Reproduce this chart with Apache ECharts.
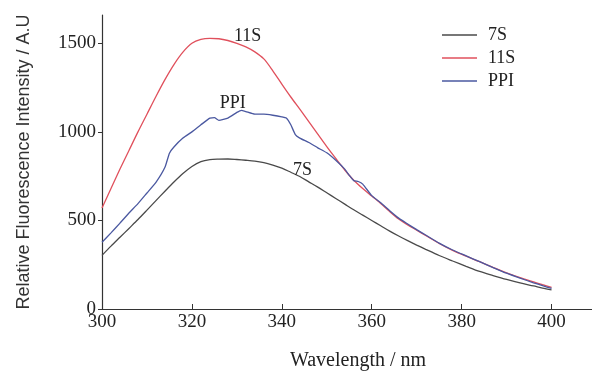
<!DOCTYPE html>
<html>
<head>
<meta charset="utf-8">
<script src="https://cdn.jsdelivr.net/npm/echarts@6/dist/echarts.min.js"></script>
<style>
  html, body { margin: 0; padding: 0; background: #fff; }
  #chart { width: 592px; height: 376px; }
</style>
</head>
<body>
<div id="chart"></div>
<script>
// wavelength grid (nm) shared by 7S and 11S
const wavelengths = [300, 302, 304, 306, 308, 310, 312, 314, 316, 318, 320, 322, 324, 326, 328, 330,
  332, 334, 336, 338, 340, 342, 344, 346, 348, 350, 352, 354, 356, 358, 360, 362, 364, 366, 368, 370,
  372, 375, 378, 381, 384, 387, 390, 393, 396, 398, 400];
const values7S = [303, 355, 405, 455, 505, 558, 612, 665, 717, 765, 805, 832, 843, 846, 847, 844,
  840, 835, 826, 812, 795, 772, 748, 718, 688, 656, 624, 592, 560, 530, 500, 470, 440, 412, 386, 361,
  337, 302, 271, 241, 212, 189, 167, 147, 130, 118, 108];
const values11S = [570, 680, 790, 895, 1000, 1100, 1200, 1295, 1380, 1450, 1500, 1522, 1528, 1526, 1516, 1500,
  1480, 1452, 1412, 1345, 1270, 1197, 1128, 1058, 987, 917, 850, 785, 727, 680, 638, 596, 550, 508, 475, 445,
  415, 370, 331, 298, 267, 235, 204, 177, 153, 137, 122];
// PPI is bumpier, so it has its own wavelength list
const wavelengthsPPI = [300, 302, 304, 306, 308, 310, 312, 314, 315, 316, 318, 320, 322, 324, 325, 326, 328,
  330, 331, 332, 334, 336, 338, 340, 341, 342, 343, 344, 346, 348, 350, 352, 354, 355, 356, 357, 358, 360,
  362, 364, 366, 368, 370, 372, 375, 378, 381, 384, 387, 390, 393, 396, 398, 400];
const valuesPPI = [377, 430, 485, 542, 595, 655, 715, 800, 880, 915, 965, 1000, 1040, 1078, 1080, 1065, 1078,
  1110, 1122, 1115, 1100, 1100, 1094, 1085, 1078, 1040, 985, 965, 940, 910, 882, 840, 790, 755, 725, 720, 705, 640,
  600, 555, 513, 480, 448, 418, 372, 333, 300, 267, 234, 202, 174, 148, 132, 116];

const seriesNames = ["7S", "11S", "PPI"];
const colors = ["#4a4a4a", "#e0505c", "#4a58a0"];
// curve labels placed in data coordinates [nm, intensity]
const curveLabels = [[344.6, 781], [332.4, 1540], [329.1, 1160]];
const xTicks = [300, 320, 340, 360, 380, 400];
const yTicks = [0, 500, 1000, 1500];

const pairs = (xs, ys) => xs.map((x, i) => [x, ys[i]]);
const seriesData = [pairs(wavelengths, values7S), pairs(wavelengths, values11S), pairs(wavelengthsPPI, valuesPPI)];

const serif = "'Liberation Serif', 'Times New Roman', serif";
const chart = echarts.init(document.getElementById("chart"));

const option = {
  backgroundColor: "#fff",
  animation: false,
  grid: { left: 102, right: 0, top: 15, bottom: 61 },
  legend: {
    orient: "vertical",
    left: 437,
    top: 21,
    icon: "rect",
    itemWidth: 35,
    itemHeight: 1.5,
    itemGap: 5,
    textStyle: { fontFamily: serif, fontSize: 18, color: "#222", lineHeight: 18, padding: [0, 0, 0, 6] },
    data: seriesNames
  },
  xAxis: {
    type: "value",
    min: 300,
    max: 409,
    name: "Wavelength / nm",
    nameLocation: "middle",
    nameGap: 42,
    nameTextStyle: { fontFamily: serif, fontSize: 20, color: "#222", padding: [0, 0, 0, 22] },
    axisLine: { lineStyle: { color: "#333", width: 1.2 } },
    axisTick: { inside: true, length: 5, customValues: xTicks, lineStyle: { color: "#333" } },
    axisLabel: { customValues: xTicks, fontFamily: serif, fontSize: 19, color: "#222", margin: 4 },
    splitLine: { show: false }
  },
  yAxis: {
    type: "value",
    min: 0,
    max: 1660,
    name: "Relative Fluorescence Intensity / A.U",
    nameLocation: "middle",
    nameGap: 69,
    nameTextStyle: { fontFamily: "'Liberation Sans', Arial, sans-serif", fontSize: 18, color: "#333" },
    axisLine: { show: true, lineStyle: { color: "#333", width: 1.2 } },
    axisTick: { show: true, length: 4, customValues: yTicks, lineStyle: { color: "#333" } },
    axisLabel: {
      customValues: yTicks,
      formatter: (v) => String(v),
      fontFamily: serif, fontSize: 19, color: "#222", margin: 6
    },
    splitLine: { show: false }
  },
  series: seriesNames.map((name, i) => ({
    name: name,
    type: "line",
    data: seriesData[i],
    symbol: "none",
    smooth: name === "PPI" ? 0.15 : 0.3,
    lineStyle: { color: colors[i], width: 1.3 },
    itemStyle: { color: colors[i] },
    markPoint: {
      symbol: "circle",
      symbolSize: 1,
      itemStyle: { color: "rgba(0,0,0,0)" },
      label: {
        show: true,
        position: "inside",
        formatter: name,
        fontFamily: serif,
        fontSize: 18,
        color: "#222"
      },
      data: [{ coord: curveLabels[i] }]
    }
  }))
};

chart.setOption(option);
</script>
</body>
</html>
